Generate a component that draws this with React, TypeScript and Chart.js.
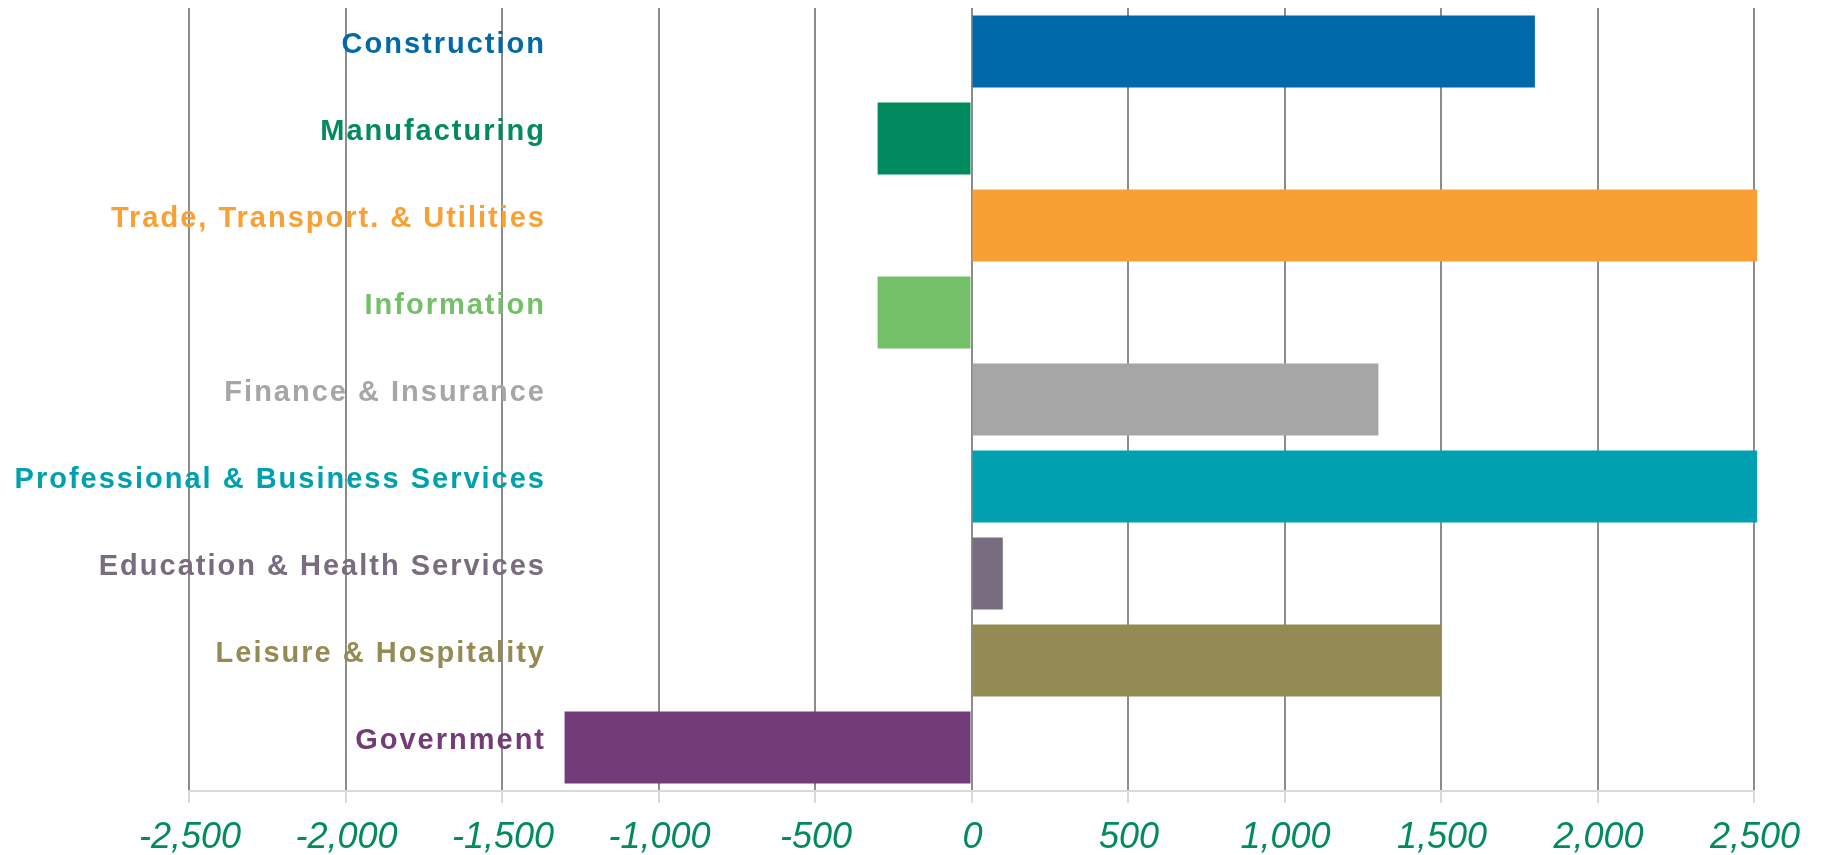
import React, { useEffect, useRef } from "react";
import { Chart, registerables } from "chart.js";

Chart.register(...registerables);

const categories = [
  "Construction",
  "Manufacturing",
  "Trade, Transport. & Utilities",
  "Information",
  "Finance & Insurance",
  "Professional & Business Services",
  "Education & Health Services",
  "Leisure & Hospitality",
  "Government",
];

const jobChange = [1800, -300, 2510, -300, 1300, 2510, 100, 1500, -1300];

const barColors = [
  "#0069AA",
  "#008A5E",
  "#F9A034",
  "#74C069",
  "#A6A6A6",
  "#00A0B0",
  "#786C7E",
  "#948B54",
  "#733B78",
];

const labelColors = [
  "#0069AA",
  "#008A5E",
  "#F9A034",
  "#74C069",
  "#A6A6A6",
  "#00A0B0",
  "#786C7E",
  "#948B54",
  "#733B78",
];

const xMin = -2500;
const xMax = 2500;
const xStep = 500;

const categoryLabelPlugin = {
  id: "categoryLabels",
  afterDatasetsDraw(chart: any) {
    const ctx = chart.ctx as CanvasRenderingContext2D;
    const yScale = chart.scales.y;
    const area = chart.chartArea;
    ctx.save();
    (ctx as any).letterSpacing = "2px";
    ctx.font = "bold 29px 'Liberation Sans', Arial, sans-serif";
    ctx.textAlign = "right";
    ctx.textBaseline = "alphabetic";
    const labels = chart.data.labels as string[];
    labels.forEach((lab, i) => {
      const y = yScale.getPixelForValue(i);
      ctx.fillStyle = labelColors[i];
      ctx.fillText(lab, area.left + 357, y + 1);
    });
    ctx.restore();
  },
};

const xTickLabelPlugin = {
  id: "xTickLabels",
  afterDraw(chart: any) {
    const ctx = chart.ctx as CanvasRenderingContext2D;
    const xScale = chart.scales.x;
    ctx.save();
    ctx.font = "italic 36px 'Liberation Sans', Arial, sans-serif";
    ctx.fillStyle = "#008A5E";
    ctx.textAlign = "center";
    ctx.textBaseline = "alphabetic";
    const baseline = xScale.bottom + 45;
    xScale.ticks.forEach((t: any, i: number) => {
      const x = xScale.getPixelForTick(i);
      const txt = Number(t.value).toLocaleString("en-US");
      ctx.fillText(txt, x + 1, baseline);
    });
    ctx.restore();
  },
};

export default function App() {
  const canvasRef = useRef<HTMLCanvasElement | null>(null);

  useEffect(() => {
    if (!canvasRef.current) return;
    const chart = new Chart(canvasRef.current, {
      type: "bar",
      data: {
        labels: categories,
        datasets: [
          {
            data: jobChange,
            backgroundColor: barColors,
            borderWidth: 0,
            barPercentage: 0.83,
            categoryPercentage: 1,
            clip: false as any,
          },
        ],
      },
      plugins: [categoryLabelPlugin, xTickLabelPlugin],
      options: {
        indexAxis: "y",
        animation: false,
        responsive: true,
        maintainAspectRatio: false,
        layout: { padding: { left: 189, right: 69, top: 8, bottom: 52 } },
        plugins: {
          legend: { display: false },
          tooltip: { enabled: false },
        },
        scales: {
          x: {
            type: "linear",
            min: xMin,
            max: xMax,
            ticks: {
              stepSize: xStep,
              display: false,
            },
            grid: {
              color: "#8C8C8C",
              lineWidth: 2,
              tickColor: "#D9D9D9",
              tickLength: 12,
              drawTicks: true,
            },
            border: { display: true, color: "#D9D9D9", width: 2 },
          },
          y: {
            display: false,
          },
        },
      },
    });
    return () => chart.destroy();
  }, []);

  return (
    <div
      style={{
        position: "fixed",
        left: 0,
        top: 0,
        width: 1823,
        height: 855,
        background: "#ffffff",
      }}
    >
      <canvas ref={canvasRef} />
    </div>
  );
}
